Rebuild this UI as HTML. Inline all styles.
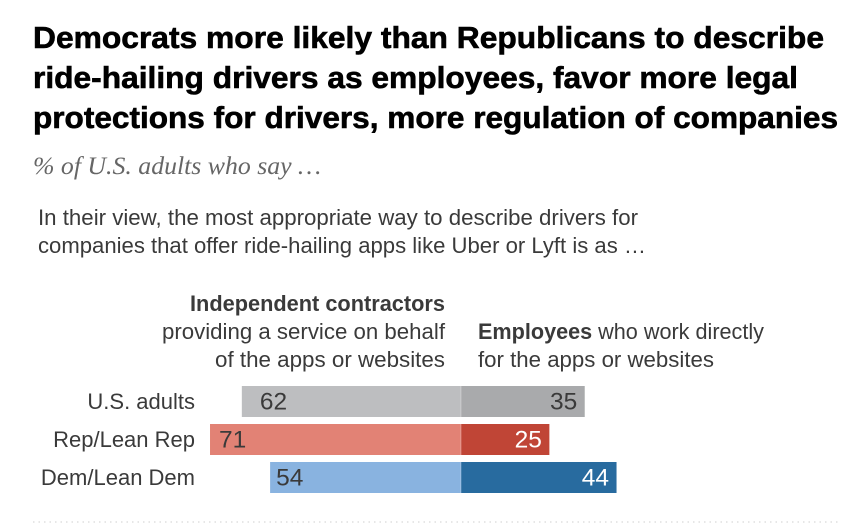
<!DOCTYPE html>
<html lang="en">
<head>
<meta charset="utf-8">
<title>Views of ride-hailing drivers</title>
<style>
html,body{margin:0;padding:0;background:#fff;}
body{width:865px;height:523px;overflow:hidden;position:relative;}
svg{display:block;position:absolute;left:0;top:0;}
text{font-family:"Liberation Sans",sans-serif;}
</style>
</head>
<body>
<svg id="chart" width="865" height="523" viewBox="0 0 865 523">
  <g font-size="31" font-weight="700" fill="#000" stroke="#000" stroke-width="0.6">
    <text x="33" y="48" textLength="791" lengthAdjust="spacingAndGlyphs">Democrats more likely than Republicans to describe</text>
    <text x="33" y="88" textLength="765" lengthAdjust="spacingAndGlyphs">ride-hailing drivers as employees, favor more legal</text>
    <text x="33" y="128" textLength="805" lengthAdjust="spacingAndGlyphs">protections for drivers, more regulation of companies</text>
  </g>
  <text x="33" y="174" font-size="25" font-style="italic" fill="#666" textLength="288" lengthAdjust="spacingAndGlyphs" style='font-family:"Liberation Serif",serif'>% of U.S. adults who say …</text>
  <g font-size="22" fill="#3a3a3a">
    <text x="38" y="225" textLength="600" lengthAdjust="spacingAndGlyphs">In their view, the most appropriate way to describe drivers for</text>
    <text x="38" y="253" textLength="608" lengthAdjust="spacingAndGlyphs">companies that offer ride-hailing apps like Uber or Lyft is as …</text>
  </g>
  <g font-size="22" fill="#3a3a3a" text-anchor="end">
    <text x="445" y="311" font-weight="700" textLength="255" lengthAdjust="spacingAndGlyphs">Independent contractors</text>
    <text x="445" y="339" textLength="283" lengthAdjust="spacingAndGlyphs">providing a service on behalf</text>
    <text x="445" y="367" textLength="230" lengthAdjust="spacingAndGlyphs">of the apps or websites</text>
  </g>
  <g font-size="22" fill="#3a3a3a">
    <text x="478" y="339" textLength="286" lengthAdjust="spacingAndGlyphs"><tspan font-weight="700">Employees</tspan> who work directly</text>
    <text x="478" y="367" textLength="236" lengthAdjust="spacingAndGlyphs">for the apps or websites</text>
  </g>
  <g id="bars"></g>
  <line x1="33" x2="840" y1="522" y2="522" stroke="#cfcfcf" stroke-width="1" stroke-dasharray="1.5 4"/>
</svg>
<script>
const categories = ["U.S. adults", "Rep/Lean Rep", "Dem/Lean Dem"];
const contractorValues = [62, 71, 54];
const employeeValues = [35, 25, 44];
const contractorColors = ["#bdbec0", "#e28275", "#89b3e0"];
const employeeColors = ["#a9aaac", "#c04536", "#286b9f"];
const employeeLabelColors = ["#3a3a3a", "#ffffff", "#ffffff"];

const NS = "http://www.w3.org/2000/svg";
const zeroX = 461;
const unit = 3.535;
const rowTop = 386;
const rowStep = 38;
const barHeight = 31;
const xLeft = v => zeroX - v * unit;
const xRight = v => zeroX + v * unit;
const yRow = i => rowTop + i * rowStep;
const group = document.getElementById("bars");

function make(tag, attrs, text) {
  const el = document.createElementNS(NS, tag);
  for (const k in attrs) el.setAttribute(k, attrs[k]);
  if (text !== undefined) el.textContent = text;
  group.appendChild(el);
  return el;
}

categories.forEach((cat, i) => {
  const y = yRow(i);
  const mid = y + barHeight / 2 + 7.5;
  const c = contractorValues[i];
  const e = employeeValues[i];

  const label = make("text", {x: 195, y: mid, "text-anchor": "end", "font-size": 22, fill: "#3a3a3a"}, cat);
  
  

  const leftBar = make("rect", {x: xLeft(c), y: y, width: zeroX - xLeft(c), height: barHeight, fill: contractorColors[i]});
  
  

  const rightBar = make("rect", {x: zeroX, y: y, width: xRight(e) - zeroX, height: barHeight, fill: employeeColors[i]});
  
  

  const sep = make("rect", {x: zeroX - 0.5, y: y, width: 1, height: barHeight, fill: "#ffffff", opacity: 0.3});
  
  

  const leftVal = make("text", {x: xLeft(c) + (i === 0 ? 18 : i === 1 ? 9 : 6), y: mid + 0.5, "font-size": 24.5, fill: "#3a3a3a"}, c);
  
  

  const rightVal = make("text", {x: xRight(e) - 7.5, y: mid + 0.5, "text-anchor": "end", "font-size": 24.5, fill: employeeLabelColors[i]}, e);
  
  
});
</script>
</body>
</html>
